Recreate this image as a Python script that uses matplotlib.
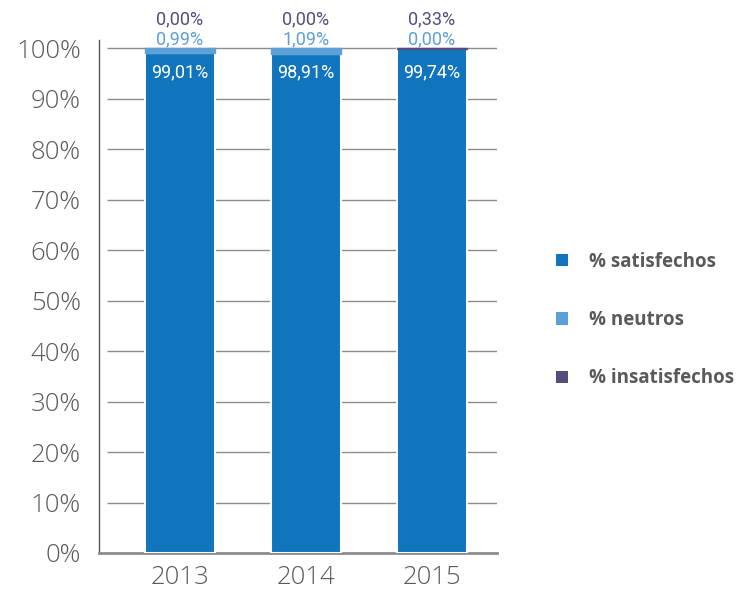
import matplotlib
matplotlib.use('Agg')
import matplotlib.pyplot as plt
import numpy as np

# datos
years = ['2013', '2014', '2015']
satisfechos = [99.01, 98.91, 99.74]
neutros = [0.99, 1.09, 0.00]
insatisfechos = [0.00, 0.00, 0.33]

c_sat = '#1075BD'
c_neu = '#5DA0D7'
c_ins = '#574C7E'
c_txt = '#5A5A5A'

label_font = ['Liberation Sans Narrow', 'Roboto', 'DejaVu Sans']

fig = plt.figure(figsize=(7.38, 5.91), dpi=100)
ax = fig.add_axes([99 / 738, 38 / 591, 398 / 738, 513 / 591])

x = np.arange(len(years))
w = 0.55
sat = np.array(satisfechos)
neu = np.array(neutros)
ins = np.array(insatisfechos)

b1 = ax.bar(x, sat, w, color=c_sat, edgecolor='white', linewidth=1.5, zorder=3, label='% satisfechos')
b2 = ax.bar(x, neu, w, bottom=sat, color=c_neu, zorder=4, label='% neutros',
            edgecolor=[c_neu if v > 0 else 'none' for v in neu], linewidth=1)
b3 = ax.bar(x, ins, w, bottom=sat + neu, color=c_ins, zorder=4, label='% insatisfechos',
            edgecolor=[c_ins if v > 0 else 'none' for v in ins], linewidth=1)

# líneas de cuadrícula (empiezan un poco separadas del eje)
for yv in range(10, 101, 10):
    ax.hlines(yv, 0.02, 1.0, transform=ax.get_yaxis_transform(), color='#8C8C8C', lw=1, zorder=1)

ax.set_xlim(-0.643, 2.516)
ax.set_ylim(0, 101.6)
ax.set_yticks(range(0, 101, 10))
ax.set_yticklabels([f'{v}%' for v in range(0, 101, 10)])
ax.set_xticks(x)
ax.set_xticklabels(years)
ax.tick_params(axis='y', length=0, pad=13, labelsize=18.5, labelcolor=c_txt)
ax.tick_params(axis='x', length=0, pad=9, labelsize=18.5, labelcolor=c_txt)
for lab in ax.get_xticklabels() + ax.get_yticklabels():
    lab.set_family(['Open Sans', 'DejaVu Sans'])
    lab.set_fontweight('light')

for s in ['top', 'right']:
    ax.spines[s].set_visible(False)
ax.spines['left'].set_color('#555555')
ax.spines['left'].set_linewidth(1)
ax.spines['bottom'].set_color('#8C8C8C')
ax.spines['bottom'].set_linewidth(2)

def fmt(v):
    return f'{v:.2f}%'.replace('.', ',')

for i in range(len(years)):
    ax.annotate(fmt(sat[i]), (x[i], min(sat[i], 98.5)), xytext=(0, -12), textcoords='offset points',
                ha='center', va='center', color='white', fontsize=13, family=label_font, zorder=5)
    ax.annotate(fmt(neu[i]), (x[i], 100), xytext=(0, 6.5), textcoords='offset points',
                ha='center', va='center', color=c_neu, fontsize=13, family=label_font, annotation_clip=False)
    ax.annotate(fmt(ins[i]), (x[i], 100), xytext=(0, 21), textcoords='offset points',
                ha='center', va='center', color=c_ins, fontsize=13, family=label_font, annotation_clip=False)

leg = fig.legend(handles=[b1, b2, b3], loc='center left', bbox_to_anchor=(539 / 738, 1 - 320 / 591),
                 frameon=False, handlelength=0.65, handleheight=0.65, handletextpad=1.1,
                 labelspacing=2.05, prop={'family': ['Open Sans', 'DejaVu Sans'], 'weight': 'bold', 'size': 13.5})
for t in leg.get_texts():
    t.set_color(c_txt)
for h in leg.legend_handles:
    h.set_edgecolor('none')

fig.savefig('out.png', dpi=100)
